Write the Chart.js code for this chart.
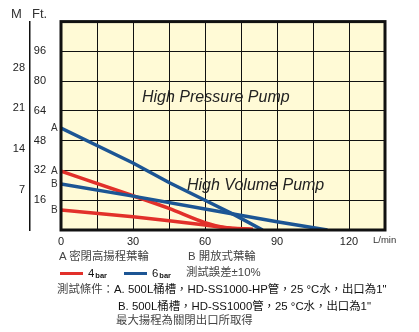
<!DOCTYPE html>
<html>
<head>
<meta charset="utf-8">
<script src="https://cdn.jsdelivr.net/npm/chart.js@4/dist/chart.umd.min.js"></script>
<style>
  html, body { margin: 0; padding: 0; background: #fff; }
  #wrap { position: relative; width: 419px; height: 332px; overflow: hidden;
          font-family: "Liberation Sans", Arial, "Noto Sans CJK TC", sans-serif; color: #333; }
  canvas { position: absolute; left: 0; top: 0; }
  .t { position: absolute; white-space: nowrap; transform: translateY(-50%); line-height: 1; }
  .note { font-size: 11.4px; color: #444; }
  .dark { color: #111; }
  .sw { position: absolute; height: 3px; }
  sub.bar { font-size: 7.5px; font-weight: bold; vertical-align: -1px; margin-left: 1px; }
  .big { font-size: 16px; font-style: italic; color: #222; }
</style>
</head>
<body>
<div id="wrap">
  <canvas id="c" width="419" height="332"></canvas>
  <div class="t" style="left:11px;top:13px;font-size:13px;color:#333">M</div>
  <div class="t" style="left:32px;top:13px;font-size:13px;color:#333">Ft.</div>
  <div class="t big" id="hp" style="left:142px;top:97px">High Pressure Pump</div>
  <div class="t big" id="hv" style="left:187px;top:185px">High Volume Pump</div>
  <div class="t" style="left:373px;top:240px;font-size:9.5px;color:#333">L/min</div>
  <div class="t ab" id="lbA1" style="left:51px;font-size:10px">A</div>
  <div class="t ab" id="lbA2" style="left:51px;font-size:10px">A</div>
  <div class="t ab" id="lbB1" style="left:51px;font-size:10px">B</div>
  <div class="t ab" id="lbB2" style="left:51px;font-size:10px">B</div>

  <div class="t note" style="left:59px;top:257px">A 密閉高揚程葉輪</div>
  <div class="t note" style="left:188px;top:257px">B 開放式葉輪</div>
  <div class="sw" style="left:60px;top:272px;width:23px;background:#e2302a"></div>
  <div class="t note dark" style="left:88px;top:274px">4<sub class="bar">bar</sub></div>
  <div class="sw" style="left:124px;top:272px;width:23px;background:#1c5594"></div>
  <div class="t note dark" style="left:152px;top:274px">6<sub class="bar">bar</sub></div>
  <div class="t note" style="left:186px;top:273px">測試誤差±10%</div>
  <div class="t note" style="left:57px;top:290px">測試條件：<span class="dark">A. 500L桶槽，HD-SS1000-HP管，25 °C水，出口為1"</span></div>
  <div class="t note dark" style="left:118px;top:307px">B. 500L桶槽，HD-SS1000管，25 °C水，出口為1"</div>
  <div class="t note" style="left:116px;top:321px">最大揚程為關閉出口所取得</div>
</div>
<script>
// ---- data (flow in L/min, head in ft) ----
const flowRedA  = [0, 30, 45, 60, 68, 80];
const headRedA  = [31.6, 18.4, 11.6, 4.0, 1.4, 0.3];
const flowRedB  = [0, 30, 45, 60, 68, 80];
const headRedB  = [10.7, 7.1, 5.0, 2.7, 1.4, 0.3];
const flowBlueA = [0, 30, 45, 60, 72.5, 84];
const headBlueA = [54.8, 36, 25.5, 16, 8, 0];
const flowBlueB = [0, 30, 60, 90, 111];
const headBlueB = [24.8, 18.2, 11.3, 4.4, 0];

const xTickLabels  = [0, 30, 60, 90, 120];
const ftTickLabels = [16, 32, 48, 64, 80, 96];
const mTickLabels  = [7, 14, 21, 28];

const RED = '#e2302a';
const BLUE = '#1c5594';

function pts(xs, ys) { return xs.map((x, i) => ({ x: x, y: ys[i] })); }

const FONT = { family: "'Liberation Sans', Arial, sans-serif", size: 11 };

const frame = {
  id: 'frame',
  beforeDraw(chart) {
    const a = chart.chartArea, ctx = chart.ctx;
    ctx.save();
    ctx.fillStyle = '#fffad6';
    ctx.fillRect(a.left, a.top, a.right - a.left, a.bottom - a.top);
    ctx.restore();
  },
  afterDatasetsDraw(chart) {
    const a = chart.chartArea, ctx = chart.ctx;
    ctx.save();
    ctx.strokeStyle = '#111';
    ctx.lineWidth = 3;
    ctx.strokeRect(a.left, a.top, a.right - a.left, a.bottom - a.top);
    ctx.restore();
  }
};

const chart = new Chart(document.getElementById('c'), {
  type: 'line',
  data: {
    datasets: [
      { label: 'A 6bar', data: pts(flowBlueA, headBlueA), borderColor: BLUE, tension: 0 },
      { label: 'B 6bar', data: pts(flowBlueB, headBlueB), borderColor: BLUE, tension: 0 },
      { label: 'A 4bar', data: pts(flowRedA, headRedA), borderColor: RED, cubicInterpolationMode: 'monotone' },
      { label: 'B 4bar', data: pts(flowRedB, headRedB), borderColor: RED, cubicInterpolationMode: 'monotone' }
    ].map(d => Object.assign({ borderWidth: 3.5, pointRadius: 0, fill: false, yAxisID: 'y', borderCapStyle: 'butt' }, d))
  },
  options: {
    responsive: false,
    animation: false,
    devicePixelRatio: 1,
    layout: { padding: { top: 21, right: 34, bottom: 0, left: 0 } },
    plugins: { legend: { display: false }, tooltip: { enabled: false } },
    scales: {
      x: {
        type: 'linear', min: 0, max: 135,
        border: { display: false },
        grid: { color: '#111', lineWidth: 1, drawTicks: false },
        ticks: {
          stepSize: 15, padding: 5, color: '#222', font: FONT, maxRotation: 0, autoSkip: false,
          callback: v => xTickLabels.includes(v) ? String(v) : ''
        },
        afterFit(s) { s.height = 102; }
      },
      y: {
        type: 'linear', position: 'left', weight: 0, min: 0, max: 112,
        border: { display: false },
        grid: { color: '#111', lineWidth: 1, drawTicks: false },
        ticks: {
          stepSize: 16, padding: 15, color: '#222', font: FONT, autoSkip: false,
          callback: v => ftTickLabels.includes(v) ? String(v) : ''
        },
        afterFit(s) { s.width = 31; }
      },
      m: {
        type: 'linear', position: 'left', weight: 1, min: 0, max: 36,
        border: { display: true, color: '#111', width: 1.5 },
        grid: { display: false, drawTicks: false },
        ticks: {
          stepSize: 7, padding: 5, color: '#222', font: FONT, autoSkip: false,
          callback: v => mTickLabels.includes(v) ? String(v) : ''
        },
        afterFit(s) { s.width = 30; }
      }
    }
  },
  plugins: [frame]
});

// place the A/B start labels at the start of each curve
const ys = chart.scales.y;
document.getElementById('lbA1').style.top = ys.getPixelForValue(headBlueA[0]) + 'px';
document.getElementById('lbA2').style.top = ys.getPixelForValue(headRedA[0]) + 'px';
document.getElementById('lbB1').style.top = ys.getPixelForValue(headBlueB[0]) + 'px';
document.getElementById('lbB2').style.top = ys.getPixelForValue(headRedB[0]) + 'px';
</script>
</body>
</html>
